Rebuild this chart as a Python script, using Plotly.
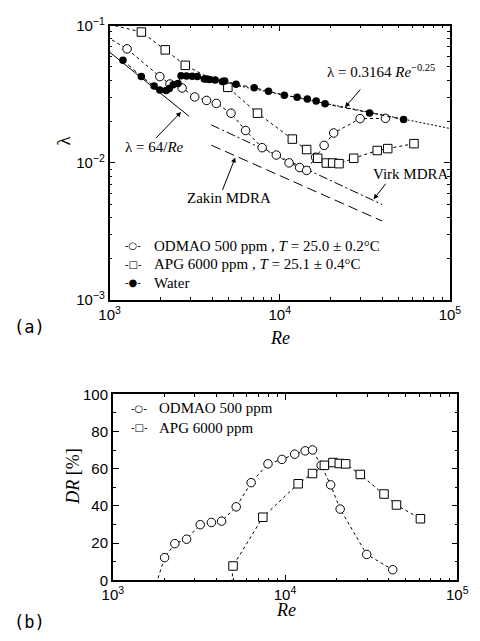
import plotly.graph_objects as go

# ---------------- data (a) ----------------
odmao_re = [900, 1267, 1974, 2265, 2668, 3166, 3716, 4240, 5170, 6300, 7880, 9550,
            11350, 13090, 14390, 16230, 18230, 20750, 29650, 41800]
odmao_lam = [0.087, 0.0676, 0.0425, 0.0375, 0.0351, 0.0302, 0.0285, 0.0271, 0.0230,
             0.0172, 0.0129, 0.0114, 0.0100, 0.00924, 0.00881, 0.0110, 0.0134, 0.0165,
             0.0210, 0.0211]

apg_re = [850, 1538, 2124, 2786, 4955, 7400, 11860, 14390, 16710, 18780, 20460, 22300,
          27200, 37400, 43100, 61500]
apg_lam = [0.107, 0.0897, 0.0665, 0.0513, 0.0355, 0.0230, 0.0149, 0.0125, 0.0108,
           0.00997, 0.00997, 0.00987, 0.0108, 0.0123, 0.0127, 0.0138]

water_re = [1198, 1538, 1828, 1974, 2150, 2245, 2366, 2523, 2630, 2831, 3060, 3277,
            3604, 3716, 3876, 4172, 4605, 4745, 5536, 7080, 8590, 10640, 12650, 14520,
            16370, 18460, 33700, 53400]
water_lam = [0.056, 0.0425, 0.0363, 0.034, 0.0336, 0.0348, 0.0371, 0.0379, 0.0431,
             0.0430, 0.0427, 0.0425, 0.0408, 0.0408, 0.0404, 0.0402, 0.0391, 0.0394,
             0.0373, 0.0353, 0.0333, 0.0311, 0.0300, 0.0292, 0.0282, 0.0269, 0.0231,
             0.0207]

laminar_re = [1000, 2930]
laminar_lam = [0.064, 0.02184]
blasius_re = [2600, 100000]
blasius_lam = [0.0443, 0.0178]
virk_re = [3960, 40000]
virk_lam = [0.0189, 0.00497]
zakin_re = [3960, 40000]
zakin_lam = [0.01345, 0.00377]

# ---------------- data (b) ----------------
dr_odmao_re = [1700, 1999, 2291, 2681, 3217, 3736, 4281, 5205, 6355, 7962, 9597, 11380,
               13090, 14440, 16190, 18390, 20900, 29800, 42200]
dr_odmao = [-8, 12.2, 19.7, 22.1, 29.9, 31.1, 31.8, 39.5, 52.5, 62.6, 65.0, 67.8, 69.6,
            70.1, 61.8, 51.3, 38.3, 13.9, 5.7]
dr_apg_re = [4800, 4990, 7430, 11920, 14440, 16920, 18970, 20660, 22490, 27350, 37570,
             44360, 61100]
dr_apg = [-14, 7.7, 33.9, 51.9, 57.4, 61.8, 63.3, 62.8, 62.6, 56.9, 46.4, 40.5, 33.1]

legend_a_names = ["ODMAO 500 ppm , <i>T</i> = 25.0 ± 0.2°C",
                  "APG 6000 ppm , <i>T</i> = 25.1 ± 0.4°C",
                  "Water"]
legend_a_symbols = ["-○-", "-□-", "-●-"]
legend_b_names = ["ODMAO 500 ppm", "APG 6000 ppm"]
legend_b_symbols = ["-○-", "-□-"]

x_tickvals = [1e3, 1e4, 1e5]
x_ticktext = ["10<sup>3</sup>", "10<sup>4</sup>", "10<sup>5</sup>"]
x_minor = [2e3, 3e3, 4e3, 5e3, 6e3, 7e3, 8e3, 9e3, 2e4, 3e4, 4e4, 5e4, 6e4, 7e4, 8e4, 9e4]
y_tickvals = [1e-3, 1e-2, 1e-1]
y_ticktext = ["10<sup>−3</sup>", "10<sup>−2</sup>", "10<sup>−1</sup>"]
y_minor = [2e-3, 3e-3, 4e-3, 5e-3, 6e-3, 7e-3, 8e-3, 9e-3,
           2e-2, 3e-2, 4e-2, 5e-2, 6e-2, 7e-2, 8e-2, 9e-2]
dr_tickvals = [0, 20, 40, 60, 80, 100]
dr_minor = [10, 30, 50, 70, 90]

W, H = 480, 641
SERIF = "Liberation Serif, Times New Roman, serif"
SANS = "Liberation Sans, Arial, sans-serif"


def px(x):
    return x / W


def py(y):
    return 1 - y / H


fig = go.Figure()

# reference lines (a)
fig.add_trace(go.Scatter(x=laminar_re, y=laminar_lam, mode="lines",
                         line=dict(color="black", width=1), showlegend=False,
                         xaxis="x", yaxis="y"))
fig.add_trace(go.Scatter(x=blasius_re, y=blasius_lam, mode="lines",
                         line=dict(color="black", width=1, dash="2px,2px"), showlegend=False,
                         xaxis="x", yaxis="y"))
fig.add_trace(go.Scatter(x=virk_re, y=virk_lam, mode="lines",
                         line=dict(color="black", width=1, dash="9px,3px,2px,3px"),
                         showlegend=False, xaxis="x", yaxis="y"))
fig.add_trace(go.Scatter(x=zakin_re, y=zakin_lam, mode="lines",
                         line=dict(color="black", width=1, dash="10px,5px"),
                         showlegend=False, xaxis="x", yaxis="y"))

mk_line = dict(color="black", width=1, dash="3px,3px")
open_circle = dict(symbol="circle", size=8.5, color="white", line=dict(color="black", width=1))
open_square = dict(symbol="square", size=8.5, color="white", line=dict(color="black", width=1))

fig.add_trace(go.Scatter(x=odmao_re, y=odmao_lam, mode="lines+markers", name=legend_a_names[0],
                         line=mk_line, marker=open_circle, showlegend=False,
                         xaxis="x", yaxis="y"))
fig.add_trace(go.Scatter(x=apg_re, y=apg_lam, mode="lines+markers", name=legend_a_names[1],
                         line=mk_line, marker=open_square, showlegend=False,
                         xaxis="x", yaxis="y"))
fig.add_trace(go.Scatter(x=water_re, y=water_lam, mode="lines+markers", name=legend_a_names[2],
                         line=dict(color="black", width=1, dash="4px,3px"),
                         marker=dict(symbol="circle", size=7.5, color="black"),
                         showlegend=False, xaxis="x", yaxis="y"))

# (b)
fig.add_trace(go.Scatter(x=dr_odmao_re, y=dr_odmao, mode="lines+markers", name=legend_b_names[0],
                         line=mk_line, marker=open_circle, showlegend=False,
                         xaxis="x2", yaxis="y2"))
fig.add_trace(go.Scatter(x=dr_apg_re, y=dr_apg, mode="lines+markers", name=legend_b_names[1],
                         line=mk_line, marker=open_square, showlegend=False,
                         xaxis="x2", yaxis="y2"))

axis_common = dict(showline=True, linecolor="black", linewidth=1.5, mirror="allticks",
                   ticks="inside", ticklen=6, tickwidth=1, tickcolor="black",
                   showgrid=False, zeroline=False,
                   tickfont=dict(family=SANS, size=15, color="black"))
minor_common = dict(ticks="inside", ticklen=3, tickwidth=1, tickcolor="black", showgrid=False)

fig.update_layout(
    width=W, height=H,
    margin=dict(l=0, r=0, t=0, b=0),
    paper_bgcolor="white", plot_bgcolor="white",
    showlegend=False,
    xaxis=dict(type="log", domain=[px(103.3), px(460)], range=[3, 5], anchor="y",
               tickmode="array", tickvals=x_tickvals, ticktext=x_ticktext,
               minor=dict(tickmode="array", tickvals=x_minor, **minor_common),
               **axis_common),
    yaxis=dict(type="log", domain=[py(298), py(15)], range=[-3, -1], anchor="x",
               tickmode="array", tickvals=y_tickvals, ticktext=y_ticktext,
               minor=dict(tickmode="array", tickvals=y_minor, **minor_common),
               **axis_common),
    xaxis2=dict(type="log", domain=[px(106.7), px(467.7)], range=[3, 5], anchor="y2",
                tickmode="array", tickvals=x_tickvals, ticktext=x_ticktext,
                minor=dict(tickmode="array", tickvals=x_minor, **minor_common),
                **axis_common),
    yaxis2=dict(domain=[py(586.7), py(395)], range=[0, 100], anchor="x2",
                tickmode="array", tickvals=dr_tickvals,
                minor=dict(tickmode="array", tickvals=dr_minor, **minor_common),
                **axis_common),
)

annos = []


def text(x, y, s, size=15, angle=0, family=SERIF, xanchor="center"):
    annos.append(dict(xref="paper", yref="paper", x=px(x), y=py(y), text=s,
                      showarrow=False, xanchor=xanchor, yanchor="middle", textangle=angle,
                      font=dict(family=family, size=size, color="black")))


def arrow(hx, hy, tx, ty):
    annos.append(dict(xref="paper", yref="paper", x=px(hx), y=py(hy), text="",
                      showarrow=True, arrowhead=2, arrowsize=1, arrowwidth=1,
                      arrowcolor="black", ax=tx - hx, ay=ty - hy, standoff=0))


text(150, 140, "λ = 64/<i>Re</i>")
arrow(178.3, 104, 151.7, 131.7)
text(228.3, 192.7, "Zakin MDRA")
arrow(235, 151, 221.7, 185)
text(419.7, 168.3, "Virk MDRA")
arrow(380, 194, 393.3, 177)
text(388, 61.7, "λ = 0.3164 <i>Re</i><sup>−0.25</sup>")
arrow(350, 99.3, 366.7, 80)

# legends (a) and (b), drawn as text
for i, (sym, name) in enumerate(zip(legend_a_symbols, legend_a_names)):
    yy = 241.7 + 19.2 * i
    text(128.3, yy, sym, size=10, family="DejaVu Sans, sans-serif")
    text(147.3, yy, name, size=15, xanchor="left")
for i, (sym, name) in enumerate(zip(legend_b_symbols, legend_b_names)):
    yy = 409.3 + 20 * i
    text(134.3, yy, sym, size=10, family="DejaVu Sans, sans-serif")
    text(152.7, yy, name, size=15, xanchor="left")

text(55, 133, "λ", size=19, angle=-90)
text(281.7, 336.7, "<i>Re</i>", size=18)
text(65, 480, "<i>DR</i> [%]", size=18, angle=-90)
text(287.7, 617, "<i>Re</i>", size=18)
text(1, 326, "(a)", size=17, family="DejaVu Sans Mono, monospace", xanchor="left")
text(1, 630, "(b)", size=17, family="DejaVu Sans Mono, monospace", xanchor="left")

fig.update_layout(annotations=annos)
fig.write_html("out.html")
